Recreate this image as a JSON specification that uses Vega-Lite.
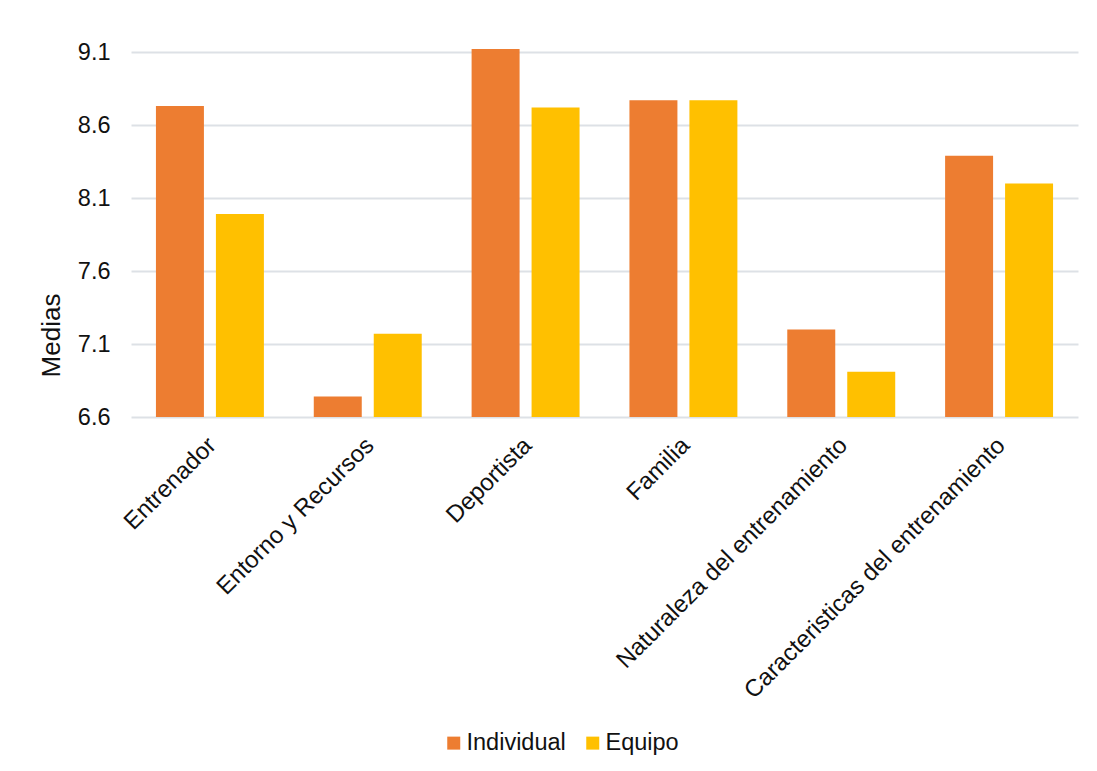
{
  "$schema": "https://vega.github.io/schema/vega-lite/v6.json",
  "width": 947,
  "height": 365,
  "autosize": {"type": "none"},
  "padding": {"left": 131, "top": 52, "right": 19, "bottom": 354},
  "background": "#ffffff",
  "config": {
    "font": "Liberation Sans",
    "view": {"stroke": null},
    "axis": {"labelFont": "Liberation Sans", "titleFont": "Liberation Sans", "labelColor": "#111111", "titleColor": "#111111"},
    "legend": {"labelFont": "Liberation Sans", "labelColor": "#111111"}
  },
  "data": {
    "values": [
      {"categoria": "Entrenador", "grupo": "Individual", "media": 8.73},
      {"categoria": "Entrenador", "grupo": "Equipo", "media": 7.99},
      {"categoria": "Entorno y Recursos", "grupo": "Individual", "media": 6.74},
      {"categoria": "Entorno y Recursos", "grupo": "Equipo", "media": 7.17},
      {"categoria": "Deportista", "grupo": "Individual", "media": 9.12},
      {"categoria": "Deportista", "grupo": "Equipo", "media": 8.72},
      {"categoria": "Familia", "grupo": "Individual", "media": 8.77},
      {"categoria": "Familia", "grupo": "Equipo", "media": 8.77},
      {"categoria": "Naturaleza del entrenamiento", "grupo": "Individual", "media": 7.2},
      {"categoria": "Naturaleza del entrenamiento", "grupo": "Equipo", "media": 6.91},
      {"categoria": "Caracteristicas del entrenamiento", "grupo": "Individual", "media": 8.39},
      {"categoria": "Caracteristicas del entrenamiento", "grupo": "Equipo", "media": 8.2}
    ]
  },
  "mark": {"type": "bar"},
  "encoding": {
    "x": {
      "field": "categoria",
      "type": "nominal",
      "sort": null,
      "scale": {"paddingInner": 0.316, "paddingOuter": 0.158},
      "axis": {
        "title": null,
        "labelAngle": -45,
        "labelFontSize": 24,
        "labelPadding": 16,
        "labelOffset": -6,
        "ticks": false,
        "domain": false,
        "labelLimit": 500
      }
    },
    "xOffset": {
      "field": "grupo",
      "type": "nominal",
      "sort": ["Individual", "Equipo"],
      "scale": {"paddingInner": 0.2, "paddingOuter": 0}
    },
    "y": {
      "field": "media",
      "type": "quantitative",
      "scale": {"domain": [6.6, 9.1], "zero": false, "nice": false},
      "axis": {
        "title": "Medias",
        "titleFontSize": 26,
        "titleFontWeight": "normal",
        "titleY": 283,
        "titleX": -67,
        "titleAlign": "center",
        "titleBaseline": "bottom",
        "values": [6.6, 7.1, 7.6, 8.1, 8.6, 9.1],
        "format": ".1f",
        "labelFontSize": 23.5,
        "labelPadding": 21,
        "ticks": false,
        "domain": false,
        "grid": true,
        "gridColor": "#dde1e6",
        "gridWidth": 1.8
      }
    },
    "y2": {"datum": 6.6},
    "color": {
      "field": "grupo",
      "type": "nominal",
      "sort": ["Individual", "Equipo"],
      "scale": {"domain": ["Individual", "Equipo"], "range": ["#ED7D31", "#FFC000"]},
      "legend": {
        "title": null,
        "orient": "none",
        "direction": "horizontal",
        "legendX": 311,
        "legendY": 679,
        "symbolType": "square",
        "symbolSize": 169,
        "symbolStrokeWidth": 0,
        "labelFontSize": 23.5,
        "labelOffset": 1,
        "columnPadding": 15,
        "padding": 0
      }
    }
  }
}
